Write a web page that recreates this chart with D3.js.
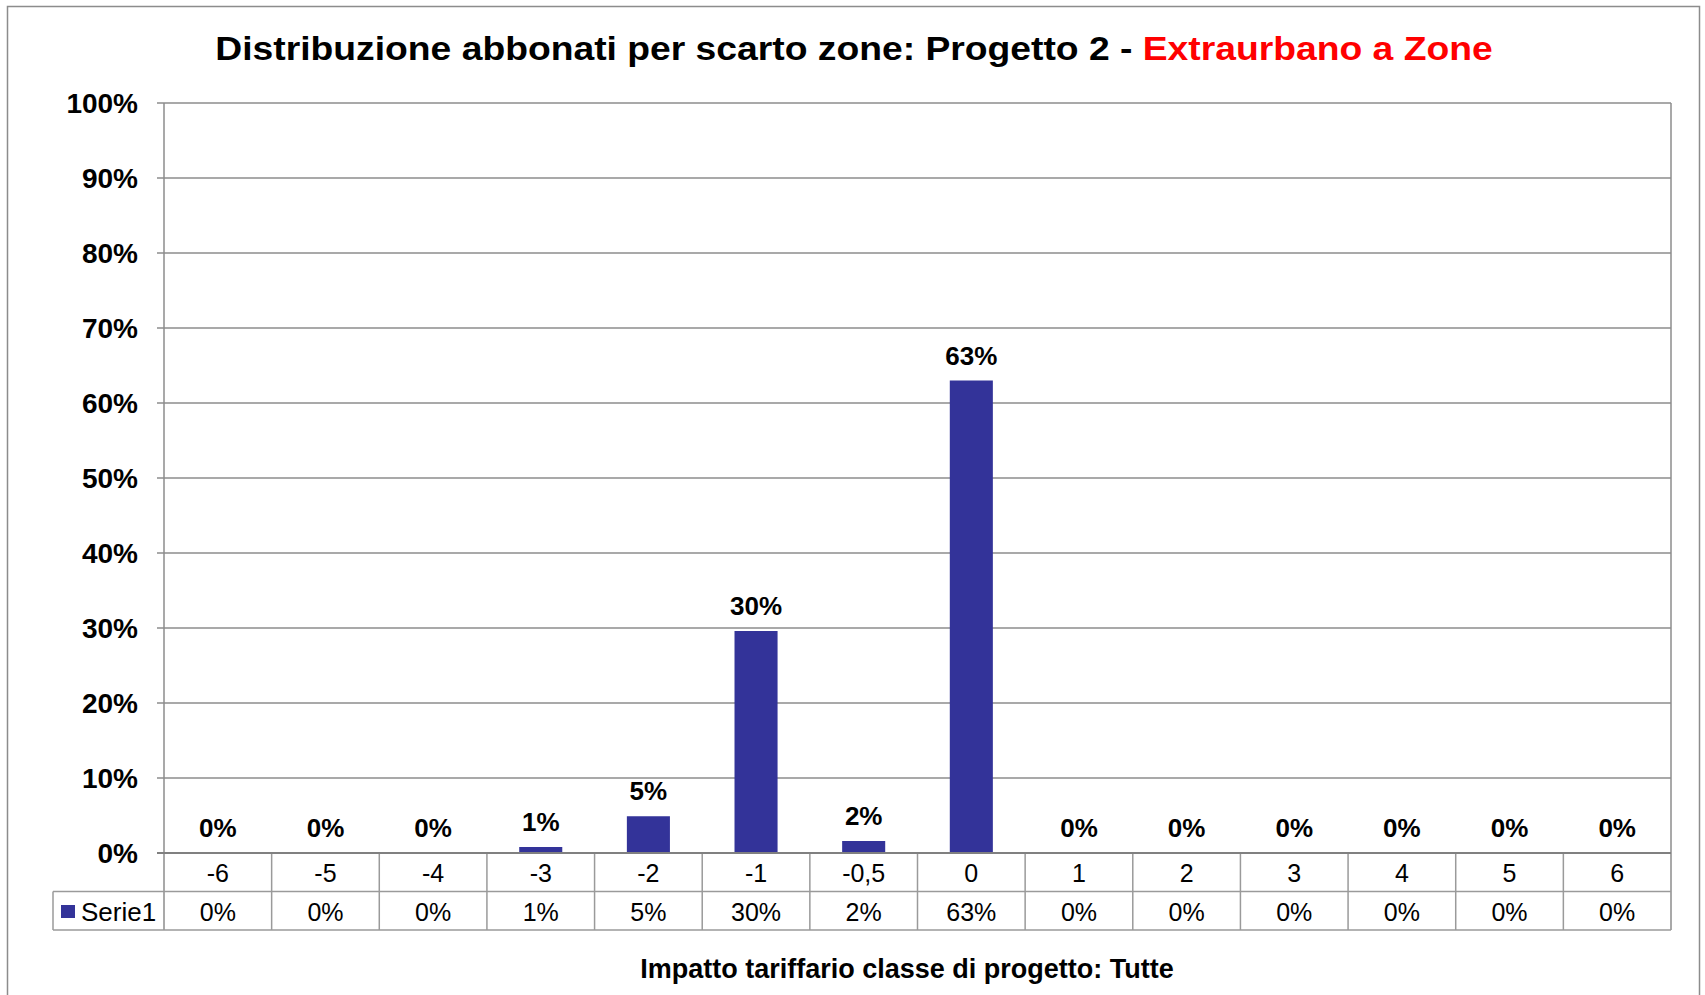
<!DOCTYPE html>
<html lang="it">
<head>
  <title>Distribuzione abbonati per scarto zone</title>
  <meta charset="UTF-8">
  <style>
    body { margin: 0; background: #fff; }
    svg { display: block; font-family: "Liberation Sans", Arial, sans-serif; }
    .grid { stroke: #8c8c8c; stroke-width: 1.5; }
    .cell { stroke: #9a9a9a; stroke-width: 1.5; fill: none; }
  </style>
</head>
<body>
  <svg id="chart" width="1705" height="995"></svg>

  <script src="https://cdn.jsdelivr.net/npm/d3@7"></script>
  <script>
    // data
    const categories = ["-6", "-5", "-4", "-3", "-2", "-1", "-0,5", "0", "1", "2", "3", "4", "5", "6"];
    const values = [0, 0, 0, 0.008, 0.049, 0.296, 0.016, 0.63, 0, 0, 0, 0, 0, 0];
    const yTicks = [0, 0.1, 0.2, 0.3, 0.4, 0.5, 0.6, 0.7, 0.8, 0.9, 1];
    const seriesName = "Serie1";

    const svg = d3.select("#chart");
    const pct = d3.format(".0%");

    const plotLeft = 164, plotRight = 1671, plotTop = 103, plotBottom = 853;
    const rowH = 38.5;
    const legendLeft = 53;

    const x = d3.scaleBand().domain(categories).range([plotLeft, plotRight]).paddingInner(0.6).paddingOuter(0.3);
    const step = x.step();
    const gap = step - x.bandwidth();
    const y = d3.scaleLinear().domain([0, 1]).range([plotBottom, plotTop]);

    // outer frame
    svg.append("rect")
      .attr("x", 7.5).attr("y", 6.5)
      .attr("width", 1692).attr("height", 1000)
      .attr("fill", "none").attr("stroke", "#8c8c8c").attr("stroke-width", 1.5);

    // title (stretched a little sideways, like the original)
    const titleX = 854, titleW = 1278;
    const title = svg.append("text")
      .attr("x", 0).attr("y", 60)
      .attr("text-anchor", "middle")
      .style("font-size", "33px").style("font-weight", "bold");
    title.append("tspan").attr("fill", "#000").text("Distribuzione abbonati per scarto zone: Progetto 2 - ");
    title.append("tspan").attr("fill", "#ff0000").text("Extraurbano a Zone");
    const tw = title.node().getComputedTextLength();
    title.attr("transform", `translate(${titleX},0) scale(${titleW / tw},1)`);

    // gridlines + y ticks
    svg.append("g").selectAll("line").data(yTicks).join("line")
      .attr("class", "grid")
      .attr("x1", plotLeft - 7).attr("x2", plotRight)
      .attr("y1", d => y(d)).attr("y2", d => y(d));

    svg.append("g").selectAll("text").data(yTicks).join("text")
      .attr("x", 138).attr("y", d => y(d) + 10)
      .attr("text-anchor", "end")
      .style("font-size", "28px").style("font-weight", "bold")
      .text(d => pct(d));

    // plot borders
    svg.append("line").attr("class", "grid")
      .attr("x1", plotLeft).attr("x2", plotLeft).attr("y1", plotTop).attr("y2", plotBottom + 2 * rowH);
    svg.append("line").attr("class", "grid")
      .attr("x1", plotRight).attr("x2", plotRight).attr("y1", plotTop).attr("y2", plotBottom + 2 * rowH);

    // bars
    svg.append("g").selectAll("rect").data(values).join("rect")
      .attr("x", (d, i) => x(categories[i]))
      .attr("width", x.bandwidth())
      .attr("y", d => y(d))
      .attr("height", d => plotBottom - y(d))
      .attr("fill", "#333399");

    // data labels
    svg.append("g").selectAll("text").data(values).join("text")
      .attr("x", (d, i) => x(categories[i]) + x.bandwidth() / 2)
      .attr("y", d => y(d) - 16)
      .attr("text-anchor", "middle")
      .style("font-size", "26px").style("font-weight", "bold")
      .text(d => pct(d));

    // data table
    const table = svg.append("g");
    table.append("line").attr("class", "cell")
      .attr("x1", legendLeft).attr("x2", plotRight).attr("y1", plotBottom + rowH).attr("y2", plotBottom + rowH);
    table.append("line").attr("class", "cell")
      .attr("x1", legendLeft).attr("x2", plotRight).attr("y1", plotBottom + 2 * rowH).attr("y2", plotBottom + 2 * rowH);
    table.append("line").attr("class", "cell")
      .attr("x1", legendLeft).attr("x2", legendLeft).attr("y1", plotBottom + rowH).attr("y2", plotBottom + 2 * rowH);
    table.selectAll("line.sep").data(categories.slice(1)).join("line")
      .attr("class", "cell sep")
      .attr("x1", d => x(d) - gap / 2)
      .attr("x2", d => x(d) - gap / 2)
      .attr("y1", plotBottom).attr("y2", plotBottom + 2 * rowH);

    table.selectAll("text.cat").data(categories).join("text")
      .attr("class", "cat")
      .attr("x", d => x(d) + x.bandwidth() / 2)
      .attr("y", plotBottom + 29)
      .attr("text-anchor", "middle")
      .style("font-size", "25px")
      .text(d => d);

    table.selectAll("text.val").data(values).join("text")
      .attr("class", "val")
      .attr("x", (d, i) => x(categories[i]) + x.bandwidth() / 2)
      .attr("y", plotBottom + rowH + 29)
      .attr("text-anchor", "middle")
      .style("font-size", "25px")
      .text(d => pct(d));

    // legend key in table
    table.append("rect")
      .attr("x", 61).attr("y", 905).attr("width", 14).attr("height", 13)
      .attr("fill", "#333399");
    table.append("text")
      .attr("x", 81).attr("y", plotBottom + rowH + 29)
      .style("font-size", "26px")
      .text(seriesName);

    // axis 0 line on top
    svg.append("line")
      .attr("x1", plotLeft - 7).attr("x2", plotRight).attr("y1", plotBottom).attr("y2", plotBottom)
      .attr("stroke", "#808080").attr("stroke-width", 2);

    // x axis title
    svg.append("text")
      .attr("x", 907).attr("y", 978)
      .attr("text-anchor", "middle")
      .style("font-size", "27px").style("font-weight", "bold")
      .text("Impatto tariffario classe di progetto: Tutte");
  </script>
</body>
</html>
